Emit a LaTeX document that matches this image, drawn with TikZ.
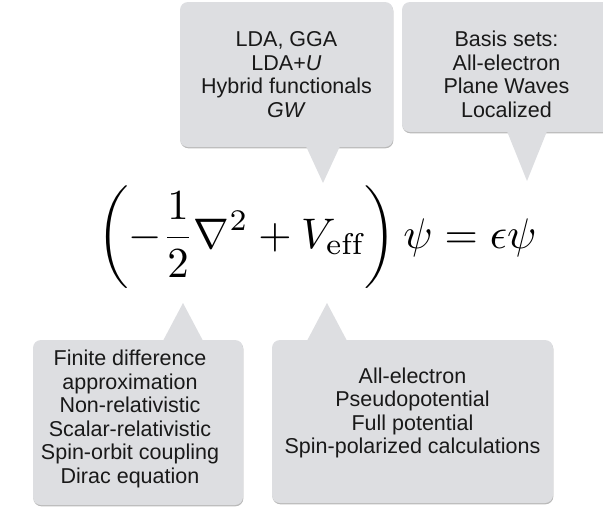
\documentclass[tikz,border=0pt]{standalone}
\usepackage{amsmath}
\usepackage{fontspec}
\newfontfamily\calloutfont{Liberation Sans}
\usepackage{tikz}
\usetikzlibrary{shadows,calc}
\definecolor{calloutgray}{RGB}{221,222,225}

\begin{document}
\begin{tikzpicture}[x=1pt,y=-1pt,
  callout/.style={fill=calloutgray,rounded corners=8pt,inner sep=0pt,
    drop shadow={shadow xshift=0.4pt,shadow yshift=-1.3pt,fill=black!50,opacity=.55}},
  callouttext/.style={align=center,inner sep=0pt,text=black!90,
    font=\calloutfont\fontsize{21.5}{23.5}\selectfont}]
\useasboundingbox (0,0) rectangle (603,512);
\clip (0,0) rectangle (603,512);
\node[callout,minimum width=213pt,minimum height=145pt] (xc) at (286.5,74.5) {};
\node[callout,minimum width=209pt,minimum height=130pt] (basis) at (506.5,67) {};
\node[callout,minimum width=210pt,minimum height=165pt] (ham) at (138,422.5) {};
\node[callout,minimum width=281pt,minimum height=163pt] (pot) at (412.5,421.5) {};
\coordinate (xctip) at (323,183);
\coordinate (basistip) at (527,181);
\coordinate (hamtip) at (183,303);
\coordinate (pottip) at (327,303);
\fill[calloutgray] ($(xctip |- xc.south)+(-17,-1)$) -- (xctip) -- ($(xctip |- xc.south)+(17,-1)$) -- cycle;
\fill[calloutgray] ($(basistip |- basis.south)+(-20,-1)$) -- (basistip) -- ($(basistip |- basis.south)+(20,-1)$) -- cycle;
\fill[calloutgray] ($(hamtip |- ham.north)+(-20,1)$) -- (hamtip) -- ($(hamtip |- ham.north)+(20,1)$) -- cycle;
\fill[calloutgray] ($(pottip |- pot.north)+(-20,1)$) -- (pottip) -- ($(pottip |- pot.north)+(20,1)$) -- cycle;
\node[callouttext] (xctext) at (286.5,74.5) {LDA, GGA\\LDA+\textit{U}\\Hybrid functionals\\\textit{GW}};
\node[callouttext] (basistext) at (506.5,74.5) {Basis sets:\\All-electron\\Plane Waves\\Localized};
\node[callouttext] (hamtext) at (130,419) {Finite difference\\approximation\\Non-relativistic\\Scalar-relativistic\\Spin-orbit coupling\\Dirac equation};
\node[callouttext] (pottext) at (412.5,413) {All-electron\\Pseudopotential\\Full potential\\Spin-polarized calculations};
\node[inner sep=0pt] (eq) at (317,237.5) {\scalebox{4.28}{$\displaystyle\left(-\frac{1}{2}\nabla^2+V_{\mathrm{eff}}\right)\psi=\epsilon\psi$}};
\end{tikzpicture}
\end{document}
